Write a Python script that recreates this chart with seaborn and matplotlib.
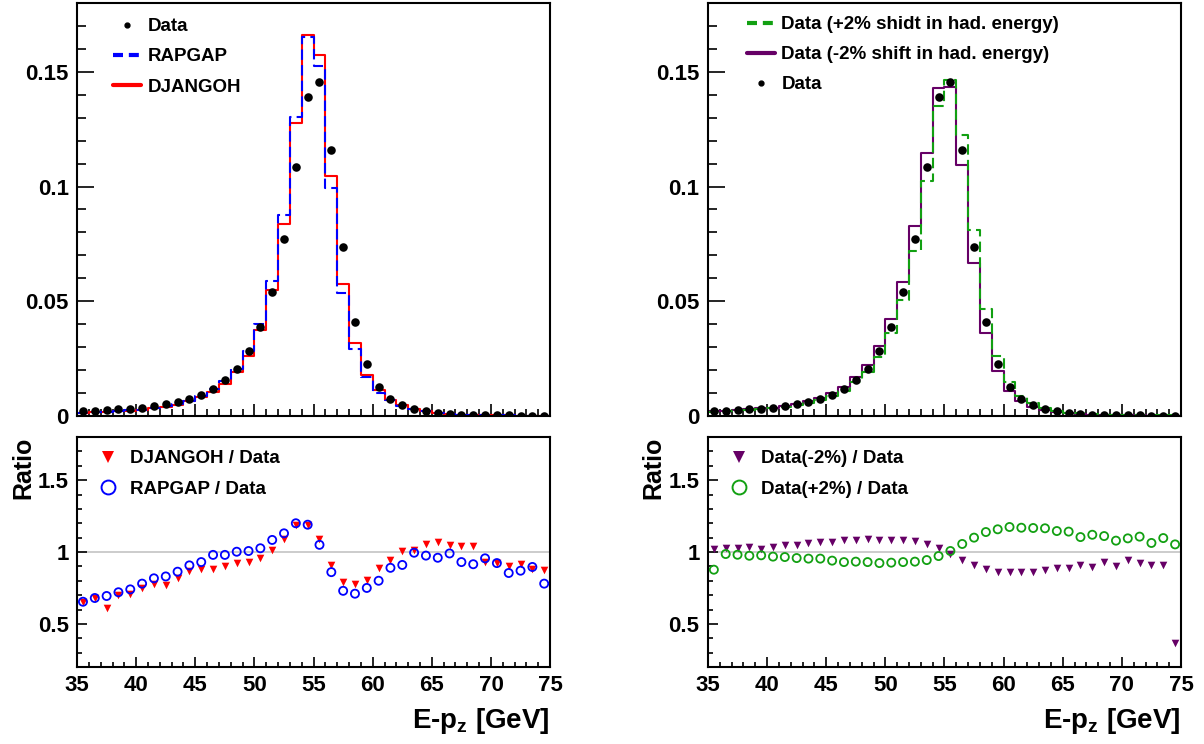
import numpy as np
import pandas as pd
import matplotlib
matplotlib.use('Agg')
import matplotlib.pyplot as plt
import seaborn as sns
from matplotlib.lines import Line2D
from matplotlib.ticker import MultipleLocator, FuncFormatter

# --- 데이터: E-pz 분포 (1 GeV bin, 35~75 GeV) ---
EDGES = np.arange(35, 76, 1)
CENTERS = EDGES[:-1] + 0.5

data = [0.0022, 0.0023, 0.0026, 0.0029, 0.0032, 0.0035, 0.0042, 0.0050, 0.0060, 0.0074,
        0.0093, 0.0118, 0.0156, 0.0205, 0.0281, 0.0389, 0.0542, 0.0773, 0.1085, 0.1390,
        0.1455, 0.1159, 0.0735, 0.0411, 0.0226, 0.0127, 0.0076, 0.0047, 0.0031, 0.0020,
        0.0013, 0.0010, 0.0006, 0.0005, 0.0004, 0.0003, 0.0003, 0.0002, 0.0002, 0.0002]
djangoh = [0.0014, 0.0016, 0.0016, 0.0020, 0.0023, 0.0026, 0.0033, 0.0039, 0.0049, 0.0064,
           0.0082, 0.0104, 0.0140, 0.0190, 0.0261, 0.0373, 0.0549, 0.0837, 0.1278, 0.1661,
           0.1575, 0.1045, 0.0575, 0.0316, 0.0179, 0.0112, 0.0071, 0.0047, 0.0031, 0.0021,
           0.0014, 0.00105, 0.00063, 0.00052, 0.00037, 0.00028, 0.00027, 0.00018, 0.00018, 0.00017]
rapgap = [0.0014, 0.0016, 0.0018, 0.0021, 0.0024, 0.0027, 0.0034, 0.0042, 0.0052, 0.0067,
          0.0086, 0.0116, 0.0153, 0.0205, 0.0283, 0.0399, 0.0588, 0.0874, 0.1302, 0.1653,
          0.1525, 0.0995, 0.0535, 0.0292, 0.0170, 0.0102, 0.0068, 0.0043, 0.0031, 0.00195,
          0.00125, 0.00099, 0.00056, 0.00046, 0.00038, 0.00028, 0.00026, 0.00017, 0.00018, 0.00016]
shift_up = [0.0019, 0.00227, 0.00255, 0.00282, 0.00313, 0.00339, 0.00405, 0.00479, 0.00572, 0.00706,
            0.0087, 0.0110, 0.0146, 0.0191, 0.0259, 0.0360, 0.0504, 0.0721, 0.1024, 0.1351,
            0.1465, 0.1224, 0.0809, 0.0468, 0.0262, 0.0149, 0.0089, 0.0055, 0.0036, 0.0023,
            0.00148, 0.0011, 0.00067, 0.00056, 0.00043, 0.00033, 0.00033, 0.00021, 0.00022, 0.00021]
shift_down = [0.00225, 0.00236, 0.00268, 0.0030, 0.00327, 0.00362, 0.0044, 0.00523, 0.00636, 0.0079,
              0.0100, 0.0128, 0.0169, 0.0223, 0.0305, 0.0423, 0.0586, 0.0830, 0.1148, 0.1430,
              0.1435, 0.1092, 0.0667, 0.0361, 0.0195, 0.0109, 0.0066, 0.0040, 0.0027, 0.0018,
              0.00115, 0.00091, 0.00054, 0.00047, 0.00036, 0.00028, 0.00028, 0.00018, 0.00018, 0.00007]

ratio_djangoh = [0.65, 0.68, 0.61, 0.70, 0.71, 0.75, 0.78, 0.77, 0.82, 0.865,
                 0.88, 0.88, 0.90, 0.925, 0.93, 0.956, 1.014, 1.09, 1.185, 1.19,
                 1.09, 0.91, 0.79, 0.78, 0.805, 0.886, 0.947, 1.005, 1.016, 1.056,
                 1.067, 1.049, 1.042, 1.044, 0.93, 0.926, 0.905, 0.92, 0.88, 0.875]
ratio_rapgap = [0.654, 0.68, 0.694, 0.72, 0.74, 0.78, 0.817, 0.83, 0.863, 0.907,
                0.93, 0.98, 0.98, 1.002, 1.007, 1.026, 1.084, 1.13, 1.20, 1.19,
                1.05, 0.86, 0.73, 0.71, 0.75, 0.80, 0.89, 0.91, 0.995, 0.975,
                0.96, 0.99, 0.93, 0.915, 0.956, 0.923, 0.854, 0.87, 0.896, 0.78]
ratio_down = [1.023, 1.026, 1.03, 1.037, 1.023, 1.035, 1.046, 1.046, 1.06, 1.067,
              1.072, 1.084, 1.084, 1.088, 1.086, 1.086, 1.081, 1.074, 1.058, 1.03,
              0.988, 0.942, 0.907, 0.879, 0.863, 0.858, 0.863, 0.858, 0.872, 0.889,
              0.886, 0.912, 0.898, 0.930, 0.903, 0.942, 0.921, 0.912, 0.912, 0.369]
ratio_up = [0.877, 0.986, 0.981, 0.974, 0.977, 0.968, 0.965, 0.958, 0.954, 0.954,
            0.94, 0.93, 0.933, 0.93, 0.923, 0.926, 0.93, 0.933, 0.944, 0.972,
            1.007, 1.056, 1.10, 1.139, 1.158, 1.174, 1.169, 1.167, 1.165, 1.146,
            1.142, 1.104, 1.12, 1.111, 1.079, 1.095, 1.107, 1.063, 1.097, 1.053]

RED, BLUE = '#ff0000', '#0000ff'
GREEN, PURPLE = '#12a012', '#660066'
DASH = (0, (5, 2.5))

# --- 스타일 ---
sns.set_theme(style='ticks')
plt.rcParams['font.family'] = ['Liberation Sans', 'DejaVu Sans']
plt.rcParams['font.weight'] = 'bold'
plt.rcParams['mathtext.default'] = 'bf'
plt.rcParams['mathtext.fontset'] = 'custom'
plt.rcParams['mathtext.bf'] = 'Liberation Sans:bold'
for key in ('axes.edgecolor', 'xtick.color', 'ytick.color', 'text.color', 'axes.labelcolor'):
    plt.rcParams[key] = 'black'

fig = plt.figure(figsize=(12.04, 7.44), dpi=100)
ax_tl = fig.add_axes([0.0640, 0.4409, 0.3929, 0.5551])
ax_bl = fig.add_axes([0.0640, 0.1035, 0.3929, 0.3091])
ax_tr = fig.add_axes([0.5880, 0.4409, 0.3929, 0.5551])
ax_br = fig.add_axes([0.5880, 0.1035, 0.3929, 0.3091])

fmt = FuncFormatter(lambda v, _: f'{v:g}')


def style(ax, ratio):
    ax.set_xlim(35, 75)
    ax.xaxis.set_major_locator(MultipleLocator(5))
    ax.xaxis.set_minor_locator(MultipleLocator(1))
    ax.tick_params(which='both', direction='in', top=False, right=False, width=1.2)
    ax.tick_params(which='major', labelsize=16, pad=6)
    if ratio:
        ax.set_ylim(0.2, 1.8)
        ax.yaxis.set_major_locator(MultipleLocator(0.5))
        ax.yaxis.set_minor_locator(MultipleLocator(0.1))
        ax.axhline(1, color='#c4c4c4', lw=1.2, zorder=0)
        ax.tick_params(which='major', length=7)
        ax.tick_params(which='minor', length=3.5)
    else:
        ax.set_ylim(0, 0.18)
        ax.yaxis.set_major_locator(MultipleLocator(0.05))
        ax.yaxis.set_minor_locator(MultipleLocator(0.01))
        ax.tick_params(axis='x', labelbottom=False)
        ax.tick_params(axis='y', which='major', length=12)
        ax.tick_params(axis='y', which='minor', length=6.3)
        ax.tick_params(axis='x', which='major', length=8.5)
        ax.tick_params(axis='x', which='minor', length=5)
    ax.yaxis.set_major_formatter(fmt)
    for s in ax.spines.values():
        s.set_linewidth(1.5)
        s.set_visible(True)
    ax.set_xlabel('')
    ax.set_ylabel('')
    if ratio:
        ax.set_ylabel('Ratio', fontsize=18, fontweight='bold', loc='top', labelpad=2)
        ax.set_xlabel('E-p$_\\mathbf{z}$ [GeV]', fontsize=20, fontweight='bold', loc='right', labelpad=7)


def hist(ax, vals, color, ls, lw=1.5):
    df = pd.DataFrame({'e': CENTERS, 'w': vals})
    sns.histplot(data=df, x='e', weights='w', bins=40, binrange=(35, 75), element='step',
                 fill=False, color=color, linestyle=ls, linewidth=lw, ax=ax)


def points(ax, vals):
    sns.scatterplot(x=CENTERS, y=vals, color='black', s=38, linewidth=0, ax=ax, zorder=5)


# 왼쪽 위: MC 비교
hist(ax_tl, djangoh, RED, '-')
hist(ax_tl, rapgap, BLUE, DASH)
points(ax_tl, data)

# 오른쪽 위: 에너지 스케일 ±2%
hist(ax_tr, shift_down, PURPLE, '-')
hist(ax_tr, shift_up, GREEN, DASH)
points(ax_tr, data)

# 아래: 비율
sns.scatterplot(x=CENTERS, y=ratio_djangoh, marker='v', color=RED, s=30, linewidth=0, ax=ax_bl, zorder=3)
sns.scatterplot(x=CENTERS, y=ratio_rapgap, marker='o', facecolors='none', edgecolor=BLUE,
                s=34, linewidth=1.3, ax=ax_bl, zorder=4)
sns.scatterplot(x=CENTERS, y=ratio_down, marker='v', color=PURPLE, s=30, linewidth=0, ax=ax_br, zorder=3)
sns.scatterplot(x=CENTERS, y=ratio_up, marker='o', facecolors='none', edgecolor=GREEN,
                s=34, linewidth=1.3, ax=ax_br, zorder=4)

for ax, r in ((ax_tl, False), (ax_tr, False), (ax_bl, True), (ax_br, True)):
    style(ax, r)

leg_kw = dict(frameon=False, loc='upper left', fontsize=13.5, borderpad=0, borderaxespad=0,
              labelspacing=0.69)

h_tl = [Line2D([], [], ls='none', marker='o', ms=3.5, color='black'),
        Line2D([], [], color=BLUE, lw=3, ls=(0, (2.4, 1.4))),
        Line2D([], [], color=RED, lw=3)]
ax_tl.legend(h_tl, ['Data', 'RAPGAP', 'DJANGOH'], bbox_to_anchor=(0.076, 0.963),
             handlelength=1.5, handletextpad=0.35, **leg_kw)

h_tr = [Line2D([], [], color=GREEN, lw=3, ls=(0, (2.4, 1.4))),
        Line2D([], [], color=PURPLE, lw=3),
        Line2D([], [], ls='none', marker='o', ms=3.5, color='black')]
ax_tr.legend(h_tr, ['Data (+2% shidt in had. energy)', 'Data (-2% shift in had. energy)', 'Data'],
             bbox_to_anchor=(0.082, 0.968), handlelength=1.5, handletextpad=0.35, **leg_kw)

h_bl = [Line2D([], [], ls='none', marker='v', ms=9, color=RED, mew=0),
        Line2D([], [], ls='none', marker='o', ms=10, mfc='none', mec=BLUE, mew=1.4)]
ax_bl.legend(h_bl, ['DJANGOH / Data', 'RAPGAP / Data'], bbox_to_anchor=(0.045, 0.942),
             handlelength=1.0, handletextpad=0.7, **leg_kw)

h_br = [Line2D([], [], ls='none', marker='v', ms=9, color=PURPLE, mew=0),
        Line2D([], [], ls='none', marker='o', ms=10, mfc='none', mec=GREEN, mew=1.4)]
ax_br.legend(h_br, ['Data(-2%) / Data', 'Data(+2%) / Data'], bbox_to_anchor=(0.045, 0.942),
             handlelength=1.0, handletextpad=0.7, **leg_kw)

fig.savefig('out.png', dpi=100)
